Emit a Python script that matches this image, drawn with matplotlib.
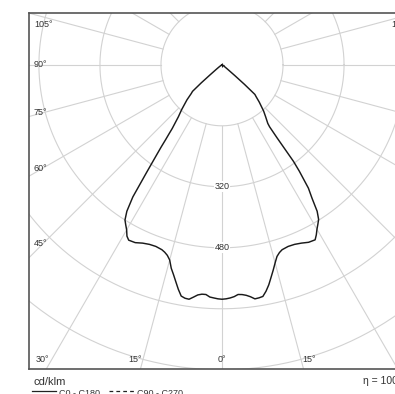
import numpy as np
import matplotlib
matplotlib.use("Agg")
import matplotlib.pyplot as plt
from matplotlib.lines import Line2D

plt.rcParams['font.family'] = ['Liberation Sans', 'DejaVu Sans']

# Luminous intensity distribution (cd/klm), gamma in degrees from nadir
gamma = [0, 1, 2, 3, 4, 5, 6, 7, 8, 9, 10, 11, 12, 13, 14, 15, 16, 17, 18,
         20, 22, 24, 26, 28, 29, 30, 31, 32, 33, 34, 35, 36,
         36.5, 37, 37.5, 38, 40, 42, 45, 47, 48, 49, 50, 52, 55, 60, 70, 90, 180]
c0 = [615, 614, 612, 609, 604, 605, 608, 613, 620, 619, 617, 605, 590, 572, 555, 538, 523, 515, 510,
      507, 508, 512, 518, 520, 510, 498, 488, 478, 458, 422, 395, 345,
      315, 240, 205, 195, 178, 163, 138, 122, 116, 78, 44, 18, 8, 3, 1, 0, 0]
c180 = [615, 614, 612, 610, 604, 604, 607, 614, 621, 620, 616, 600, 582, 565, 550, 530, 520, 514, 510,
        507, 508, 512, 519, 521, 514, 500, 490, 480, 458, 418, 345, 290,
        268, 245, 228, 212, 178, 158, 130, 110, 104, 72, 40, 18, 8, 3, 1, 0, 0]

ring_values = [160, 320, 480, 640, 800, 960]
ring_labels = [320, 480]
angle_labels = [0, 15, 30, 45, 60, 75, 90, 105]

GRID = '#d2d2d2'
TXT = '#333333'

fig = plt.figure(figsize=(3.95, 3.94), dpi=100)
# frame is wider than the picture: right side is cropped like the original
ax = fig.add_axes([29 / 395, 25 / 394, 386 / 395, 356 / 394])
ax.set_xlim(-506, 506)
ax.set_ylim(-798, 136)
ax.set_xticks([])
ax.set_yticks([])
for sp in ax.spines.values():
    sp.set_color('#555555')
    sp.set_linewidth(1.2)

# rings
t = np.linspace(0, 2 * np.pi, 400)
for r in ring_values:
    ax.plot(r * np.cos(t), r * np.sin(t), color=GRID, lw=0.8, zorder=1)

# spokes every 15 degrees, starting at the first ring
for a in range(0, 360, 15):
    ar = np.radians(a)
    ax.plot([160 * np.sin(ar), 1100 * np.sin(ar)], [-160 * np.cos(ar), -1100 * np.cos(ar)],
            color=GRID, lw=0.8, zorder=1)

for r in ring_labels:
    ax.text(0, -r, str(r), ha='center', va='center', fontsize=6.5, color=TXT, zorder=3,
            bbox=dict(facecolor='white', edgecolor='none', pad=0.6))

# angle labels along the frame
x_in, x_edge, y_top, y_bot = 470, 493, 105, -774
for g in angle_labels:
    gr = np.radians(g)
    for side in (-1, 1):
        if g == 0 and side == 1:
            continue
        if g >= 45:
            y = np.clip(-x_in / np.tan(gr), y_bot, y_top) if g != 90 else 0
            ax.text(side * x_edge, y, f"{g}°", ha='left' if side < 0 else 'right', va='center',
                    fontsize=6.5, color=TXT, zorder=3)
        elif g == 30:
            ax.text(side * 488, y_bot, f"{g}°", ha='left' if side < 0 else 'right', va='center',
                    fontsize=6.5, color=TXT, zorder=3)
        else:
            x = side * (-y_bot * np.tan(gr) + (20 if g > 0 else 0))
            ax.text(x, y_bot, f"{g}°", ha='center', va='center', fontsize=6.5, color=TXT, zorder=3)

# curve: C180 on the left, C0 on the right
g = np.radians(np.array(gamma))
i0 = np.array(c0, dtype=float)
i180 = np.array(c180, dtype=float)
xs = np.concatenate([-(i180 * np.sin(g))[::-1], (i0 * np.sin(g))[1:]])
ys = np.concatenate([-(i180 * np.cos(g))[::-1], -(i0 * np.cos(g))[1:]])
ax.plot(xs, ys, color='#1a1a1a', lw=1.05, zorder=4)
ax.plot([0], [0], marker='+', ms=3, mew=0.8, color='#1a1a1a', zorder=5)

# footer texts and legend (bottom row is cropped as in the original)
fig.text(34 / 395, 1 - 382 / 394, "cd/klm", fontsize=8, color=TXT, ha='left', va='center')
fig.text(363 / 395, 1 - 381 / 394, "η = 100%", fontsize=7.5, color=TXT, ha='left', va='center')
ly = 1 - 390.5 / 394
fig.add_artist(Line2D([32 / 395, 56 / 395], [ly, ly], color='#222222', lw=0.9))
fig.text(59 / 395, 1 - 393 / 394, "C0 - C180", fontsize=6.5, color=TXT, ha='left', va='center')
fig.add_artist(Line2D([109 / 395, 134 / 395], [ly, ly], color='#222222', lw=0.9, ls=(0, (3, 2.5))))
fig.text(137 / 395, 1 - 393 / 394, "C90 - C270", fontsize=6.5, color=TXT, ha='left', va='center')

fig.savefig("out.png", dpi=100)
